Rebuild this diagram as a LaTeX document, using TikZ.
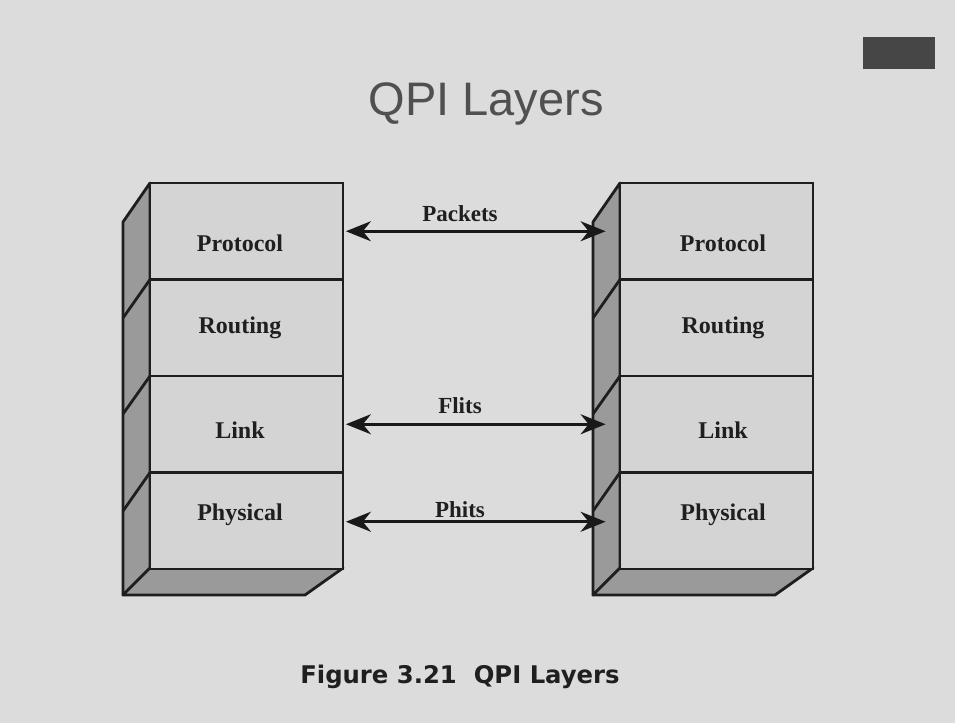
\documentclass[tikz,border=0pt]{standalone}
\usepackage{fontspec}
\setmainfont{Liberation Serif}
\newfontfamily\titlefont{Liberation Sans}
\newfontfamily\capfont{DejaVu Sans}
\usetikzlibrary{arrows.meta}
\definecolor{bgc}{HTML}{DCDCDC}
\definecolor{frontc}{HTML}{D4D4D4}
\definecolor{sidec}{HTML}{9A9A9A}
\definecolor{edgec}{HTML}{1E1E1E}
\definecolor{titlec}{HTML}{505050}
\definecolor{boxc}{HTML}{464646}
\tikzset{
  layerbox/.style={draw=edgec, line width=2.8pt, fill=frontc, minimum width=193pt, minimum height=96.5pt, inner sep=0pt},
  sideface/.style={draw=edgec, line width=2.8pt, fill=sidec, line join=round},
  divider/.style={draw=edgec, line width=2.8pt},
  layertext/.style={font=\fontsize{24}{27}\selectfont\bfseries, text=black!88},
  msgtext/.style={font=\fontsize{23}{26}\selectfont\bfseries, text=black!88},
  msgarrow/.style={draw=black!90, line width=2.6pt, {Stealth[length=25pt,width=20pt,inset=8pt]}-{Stealth[length=25pt,width=20pt,inset=8pt]}},
}
\begin{document}
\begin{tikzpicture}[x=1pt,y=-1pt]
\useasboundingbox (0,0) rectangle (955,723);
\fill[bgc] (0,0) rectangle (955,723);
% top-right box
\fill[boxc] (863,37) rectangle (935,69);
% title
\node[font=\titlefont\fontsize{47}{51}\selectfont, text=titlec] (title) at (486,104) {QPI Layers};

% stacks
\foreach \s/\dx in {l/0, r/470}{
  \begin{scope}[xshift=\dx pt]
    \path[sideface] (150,183) -- (123,222) -- (123,595) -- (150,568) -- cycle;
    \path[sideface] (150,568) -- (343,568) -- (305,595) -- (123,595) -- cycle;
    \node[layerbox] (\s prot) at (246.5,231.25) {};
    \node[layerbox] (\s rout) at (246.5,327.75) {};
    \node[layerbox] (\s link) at (246.5,424.25) {};
    \node[layerbox] (\s phys) at (246.5,520.75) {};
    \draw[divider] (150,279.5) -- (123,318);
    \draw[divider] (150,376) -- (123,414);
    \draw[divider] (150,472.5) -- (123,511);
  \end{scope}
}
% layer labels
\node[layertext] (tlprot) at (240,243) {Protocol};
\node[layertext] (tlrout) at (240,328) {Routing};
\node[layertext] (tllink) at (240,430) {Link};
\node[layertext] (tlphys) at (240,515) {Physical};
\node[layertext] (trprot) at (723,243) {Protocol};
\node[layertext] (trrout) at (723,328) {Routing};
\node[layertext] (trlink) at (723,430) {Link};
\node[layertext] (trphys) at (723,515) {Physical};

% arrows
\draw[msgarrow] ([xshift=1.5pt]lprot.east) -- ([xshift=-13pt]rprot.west);
\draw[msgarrow] ([xshift=1.5pt]llink.east) -- ([xshift=-13pt]rlink.west);
\draw[msgarrow] ([xshift=1.5pt,yshift=-1pt]lphys.east) -- ([xshift=-13pt,yshift=-1pt]rphys.west);
\node[msgtext] (mpack) at (460,214) {Packets};
\node[msgtext] (mflit) at (460,406) {Flits};
\node[msgtext] (mphit) at (460,510) {Phits};

% caption
\node[font=\capfont\fontsize{24.3}{27}\selectfont\bfseries, text=black!88] (caption) at (460,677) {Figure 3.21\ \ QPI Layers};
\end{tikzpicture}
\end{document}
